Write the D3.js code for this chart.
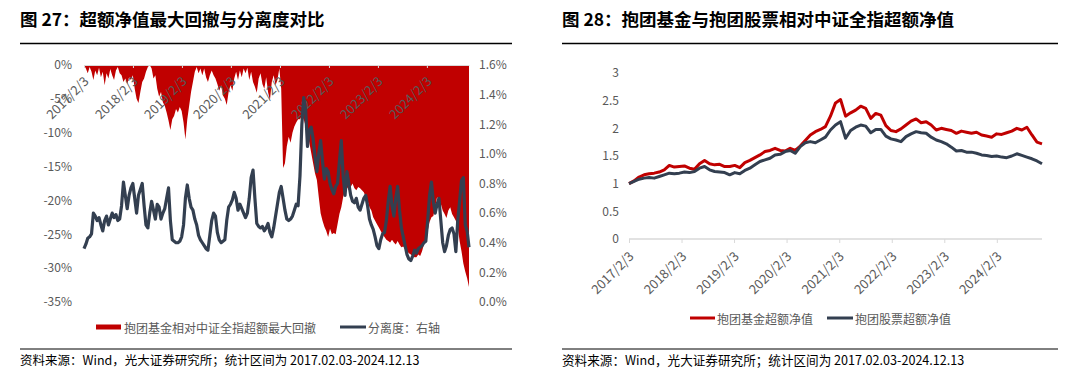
<!DOCTYPE html>
<html><head><meta charset="utf-8">
<script src="https://cdn.jsdelivr.net/npm/d3@7"></script>
<style>
body{margin:0;background:#fff;}
svg{display:block;font-family:"Noto Sans CJK SC","Noto Sans",sans-serif;}
</style>
</head><body>
<svg id="c" width="1080" height="368"></svg>
<script>
// ---------------- data ----------------
const startDate = "2017-02-03";
const endDate = "2024-12-13";
const leftStepDays = 14;   // sampling step of left-chart series
const rightStepDays = 35;  // sampling step of right-chart series

const xTickLabels = ["2017/2/3","2018/2/3","2019/2/3","2020/2/3","2021/2/3","2022/2/3","2023/2/3","2024/2/3"];
const ddTicks = [0,-5,-10,-15,-20,-25,-30,-35];
const sepTicks = [0,0.2,0.4,0.6,0.8,1.0,1.2,1.4,1.6];
const navTicks = [0,0.5,1,1.5,2,2.5,3];

// 抱团基金相对中证全指超额最大回撤 (%)
const drawdown = [
0,-0.5,-1.2,-0.3,-1.0,-2.2,-0.8,-1.5,-0.4,-1.8,-1.0,-3.0,-1.2,-2.0,-0.6,-1.5,-2.2,-0.8,-0.3,-1.2,
-1.5,-2.5,-2.0,-2.8,-1.8,-2.2,-1.5,-3.5,-5.0,-5.6,-4.0,-2.5,-2.0,-1.0,-0.3,0,-0.5,-2.0,-1.5,-3.5,
-4.7,-4.0,-5.5,-6.0,-7.0,-8.2,-9.6,-8.0,-7.5,-6.5,-7.0,-6.2,-6.8,-8.5,-11.0,-8.0,-6.0,-4.0,-2.5,-1.0,
-0.3,-1.2,-0.5,-1.5,-0.5,-1.8,-2.5,-1.5,-0.8,-1.5,-2.0,-2.8,-3.8,-3.0,-4.5,-5.0,-5.9,-4.0,-3.0,-3.8,
-2.0,-1.0,-2.2,-0.8,-1.8,-0.5,-1.2,-0.4,-2.2,-1.0,-2.5,-3.2,-4.1,-2.0,-1.2,-2.8,-3.5,-1.8,-4.0,-5.2,
-2.5,-1.5,-3.0,-2.2,-0.5,-3.5,-15.2,-14.5,-12.0,-10.6,-11.5,-10.0,-9.1,-8.5,-8.0,-8.0,-7.5,-8.0,-9.0,-10.0,
-11.5,-13.0,-14.5,-16.0,-17.0,-19.5,-21.9,-23.0,-23.9,-24.5,-25.4,-24.2,-25.0,-24.8,-25.0,-23.5,-22.0,-21.0,-19.5,-18.5,
-18.0,-18.5,-18.0,-17.5,-18.2,-18.5,-18.0,-18.2,-18.5,-18.8,-19.5,-20.0,-21.0,-21.5,-22.5,-23.0,-23.5,-24.0,-24.5,-25.0,
-25.4,-25.8,-26.0,-26.2,-25.8,-26.2,-26.5,-26.0,-26.5,-26.9,-26.8,-27.2,-27.5,-27.8,-28.0,-28.2,-28.4,-28.4,-28.0,-28.2,
-27.5,-26.5,-25.4,-24.5,-23.2,-22.5,-22.3,-21.0,-19.5,-20.0,-20.5,-21.5,-22.0,-22.6,-21.5,-21.0,-22.0,-22.5,-23.0,-24.0,
-26.0,-27.5,-29.3,-30.5,-31.5,-32.8
];

// 分离度 (%), right axis
const separation = [
0.36,0.39,0.43,0.44,0.46,0.60,0.58,0.55,0.57,0.52,0.48,0.55,0.58,0.52,0.56,0.60,0.57,0.59,0.55,0.56,
0.65,0.81,0.72,0.63,0.72,0.77,0.80,0.70,0.60,0.72,0.76,0.80,0.65,0.52,0.50,0.60,0.68,0.62,0.56,0.66,
0.64,0.56,0.60,0.63,0.70,0.77,0.55,0.42,0.41,0.40,0.40,0.41,0.44,0.52,0.70,0.79,0.70,0.64,0.62,0.56,
0.52,0.45,0.42,0.40,0.38,0.36,0.35,0.45,0.55,0.60,0.58,0.47,0.42,0.40,0.41,0.42,0.55,0.64,0.66,0.69,
0.74,0.70,0.62,0.66,0.63,0.60,0.57,0.60,0.70,0.84,0.89,0.70,0.53,0.51,0.50,0.51,0.48,0.50,0.53,0.47,
0.44,0.50,0.58,0.66,0.74,0.78,0.70,0.62,0.56,0.55,0.56,0.58,0.62,0.66,0.65,0.85,1.20,1.38,1.30,1.05,
1.16,1.18,1.10,0.98,0.88,1.00,1.09,0.95,0.83,0.90,0.88,0.80,0.76,0.73,0.78,0.80,0.95,1.09,0.85,0.72,
0.88,0.80,0.72,0.68,0.67,0.70,0.64,0.62,0.66,0.70,0.72,0.65,0.56,0.52,0.49,0.44,0.38,0.36,0.42,0.46,
0.47,0.55,0.68,0.78,0.65,0.58,0.70,0.78,0.62,0.50,0.44,0.38,0.32,0.29,0.28,0.31,0.35,0.33,0.36,0.37,
0.38,0.40,0.41,0.55,0.72,0.81,0.68,0.60,0.66,0.70,0.55,0.40,0.34,0.38,0.45,0.49,0.50,0.46,0.34,0.55,
0.68,0.82,0.84,0.52,0.48,0.37
];

// 抱团基金超额净值
const fundNav = [
1.00,1.05,1.12,1.16,1.18,1.19,1.21,1.25,1.33,1.30,1.31,1.32,1.28,1.26,1.36,1.42,1.36,1.34,1.35,1.31,
1.31,1.33,1.29,1.38,1.42,1.47,1.52,1.58,1.60,1.64,1.60,1.59,1.64,1.60,1.68,1.78,1.88,1.94,1.98,2.03,
2.22,2.46,2.52,2.22,2.28,2.33,2.40,2.36,2.18,2.27,2.24,2.05,1.96,1.94,1.99,2.06,2.13,2.17,2.10,2.12,
2.06,1.97,2.00,1.98,1.96,1.91,1.95,1.93,1.91,1.93,1.88,1.86,1.84,1.90,1.89,1.92,1.95,2.00,1.97,2.02,
1.88,1.75,1.72
];
// 抱团股票超额净值
const stockNav = [
1.00,1.04,1.08,1.10,1.11,1.10,1.13,1.16,1.19,1.18,1.19,1.21,1.20,1.22,1.28,1.31,1.25,1.22,1.21,1.20,
1.16,1.20,1.18,1.24,1.28,1.34,1.40,1.43,1.46,1.52,1.53,1.58,1.60,1.55,1.67,1.74,1.76,1.74,1.79,1.84,
1.97,2.06,2.12,1.82,1.96,2.02,2.06,2.04,1.92,1.98,1.98,1.86,1.81,1.79,1.76,1.85,1.90,1.94,1.92,1.91,
1.84,1.79,1.76,1.72,1.66,1.59,1.60,1.57,1.57,1.55,1.52,1.51,1.49,1.50,1.48,1.47,1.50,1.54,1.51,1.48,
1.45,1.41,1.36
];

// ---------------- drawing ----------------
const parse = d3.timeParse("%Y-%m-%d");
const parseTick = d3.timeParse("%Y/%m/%d");
const t0 = parse(startDate), t1 = parse(endDate);
const leftData = drawdown.map((v,i)=>({d:d3.timeDay.offset(t0, i*leftStepDays), dd:v, sep:separation[i]}));
const rightData = fundNav.map((v,i)=>({d:d3.timeDay.offset(t0, i*rightStepDays), f:v, s:stockNav[i]}));
const tickDates = xTickLabels.map(parseTick);

const RED = "#C00000", NAVY = "#333F50", GREY = "#595959";
const FONT = '"Noto Sans CJK SC","Noto Sans",sans-serif';
const svg = d3.select("#c");

// titles and rules
function header(x, w, text, fs){
  svg.append("text").attr("x",x).attr("y",18).attr("dominant-baseline","central")
    .attr("font-size",17.5).attr("font-weight","bold").attr("fill","#000").text(text);
  svg.append("line").attr("x1",x).attr("x2",x+w).attr("y1",43.5).attr("y2",43.5)
    .attr("stroke","#000").attr("stroke-width",1.5);
  svg.append("line").attr("x1",x).attr("x2",x+w).attr("y1",349).attr("y2",349)
    .attr("stroke","#000").attr("stroke-width",1);
  svg.append("text").attr("x",x).attr("y",359).attr("dominant-baseline","central")
    .attr("font-size",fs).attr("fill","#000").text("资料来源：Wind，光大证券研究所；统计区间为 2017.02.03-2024.12.13");
}
header(20, 492, "图 27：超额净值最大回撤与分离度对比", 12.5);
header(562, 496, "图 28：抱团基金与抱团股票相对中证全指超额净值", 12.6);

// ---------- left chart ----------
const xL = d3.scaleTime().domain([t0,t1]).range([84,469]);
const yL = d3.scaleLinear().domain([-35,0]).range([302,65]);
const yR = d3.scaleLinear().domain([0,1.6]).range([302,65]);

const gL = svg.append("g");
gL.append("path").datum(leftData).attr("fill",RED)
  .attr("d", d3.area().x(d=>xL(d.d)).y0(yL(0)).y1(d=>yL(d.dd)));

function styleAxis(g, fs){
  g.select(".domain").attr("stroke","#d9d9d9");
  g.selectAll(".tick line").attr("stroke","#d9d9d9");
  g.selectAll("text").attr("fill",GREY).attr("font-size",fs||12).attr("font-family",FONT);
}

const axL = gL.append("g").attr("transform","translate(0,65)")
  .call(d3.axisBottom(xL).tickValues(tickDates).tickSize(3).tickSizeOuter(0).tickFormat((d,i)=>xTickLabels[i]));
styleAxis(axL, 13);
axL.selectAll("text").attr("x",0).attr("y",0).attr("dy","0.35em")
  .attr("text-anchor","end").attr("transform","translate(2,14) rotate(-45)");

const ayL = gL.append("g").attr("transform","translate(75,0)")
  .call(d3.axisLeft(yL).tickValues(ddTicks).tickSize(0).tickPadding(3).tickFormat(d=>d+"%"));
ayL.select(".domain").remove(); styleAxis(ayL);
const ayR = gL.append("g").attr("transform","translate(476,0)")
  .call(d3.axisRight(yR).tickValues(sepTicks).tickSize(0).tickPadding(3).tickFormat(d=>d.toFixed(1)+"%"));
ayR.select(".domain").remove(); styleAxis(ayR);

gL.append("path").datum(leftData).attr("fill","none").attr("stroke",NAVY).attr("stroke-width",3.2)
  .attr("stroke-linejoin","round")
  .attr("d", d3.line().x(d=>xL(d.d)).y(d=>yR(d.sep)));

// left legend
const legL = gL.append("g").attr("transform","translate(0,327)");
legL.append("rect").attr("x",96).attr("y",-2.5).attr("width",25).attr("height",5).attr("fill",RED);
legL.append("text").attr("x",124).attr("y",0).attr("dominant-baseline","central").attr("font-size",12).attr("fill",GREY).text("抱团基金相对中证全指超额最大回撤");
legL.append("line").attr("x1",340).attr("x2",366).attr("y1",0).attr("y2",0).attr("stroke",NAVY).attr("stroke-width",3);
legL.append("text").attr("x",368).attr("y",0).attr("dominant-baseline","central").attr("font-size",12).attr("fill",GREY).text("分离度：右轴");

// ---------- right chart ----------
const xN = d3.scaleTime().domain([t0,t1]).range([629,1042]);
const yN = d3.scaleLinear().domain([0,3]).range([239,73]);
const gR = svg.append("g");

const axN = gR.append("g").attr("transform","translate(0,239)")
  .call(d3.axisBottom(xN).tickValues(tickDates).tickSize(4).tickSizeOuter(0).tickFormat((d,i)=>xTickLabels[i]));
styleAxis(axN, 13);
axN.select(".domain").attr("d","M629,0H1042").attr("stroke-width",1.5);
axN.selectAll("text").attr("x",0).attr("y",0).attr("dy","0.35em")
  .attr("text-anchor","end").attr("transform","translate(2,15) rotate(-45)");

const ayN = gR.append("g").attr("transform","translate(622,0)")
  .call(d3.axisLeft(yN).tickValues(navTicks).tickSize(0).tickPadding(3).tickFormat(d3.format("")));
ayN.select(".domain").remove(); styleAxis(ayN);

gR.append("path").datum(rightData).attr("fill","none").attr("stroke",RED).attr("stroke-width",3)
  .attr("stroke-linejoin","round").attr("d", d3.line().x(d=>xN(d.d)).y(d=>yN(d.f)));
gR.append("path").datum(rightData).attr("fill","none").attr("stroke",NAVY).attr("stroke-width",3)
  .attr("stroke-linejoin","round").attr("d", d3.line().x(d=>xN(d.d)).y(d=>yN(d.s)));

const legR = gR.append("g").attr("transform","translate(0,318)");
legR.append("line").attr("x1",690).attr("x2",715).attr("y1",0).attr("y2",0).attr("stroke",RED).attr("stroke-width",3);
legR.append("text").attr("x",717).attr("y",0).attr("dominant-baseline","central").attr("font-size",12).attr("fill",GREY).text("抱团基金超额净值");
legR.append("line").attr("x1",827).attr("x2",853).attr("y1",0).attr("y2",0).attr("stroke",NAVY).attr("stroke-width",3);
legR.append("text").attr("x",855).attr("y",0).attr("dominant-baseline","central").attr("font-size",12).attr("fill",GREY).text("抱团股票超额净值");
</script>
</body></html>
